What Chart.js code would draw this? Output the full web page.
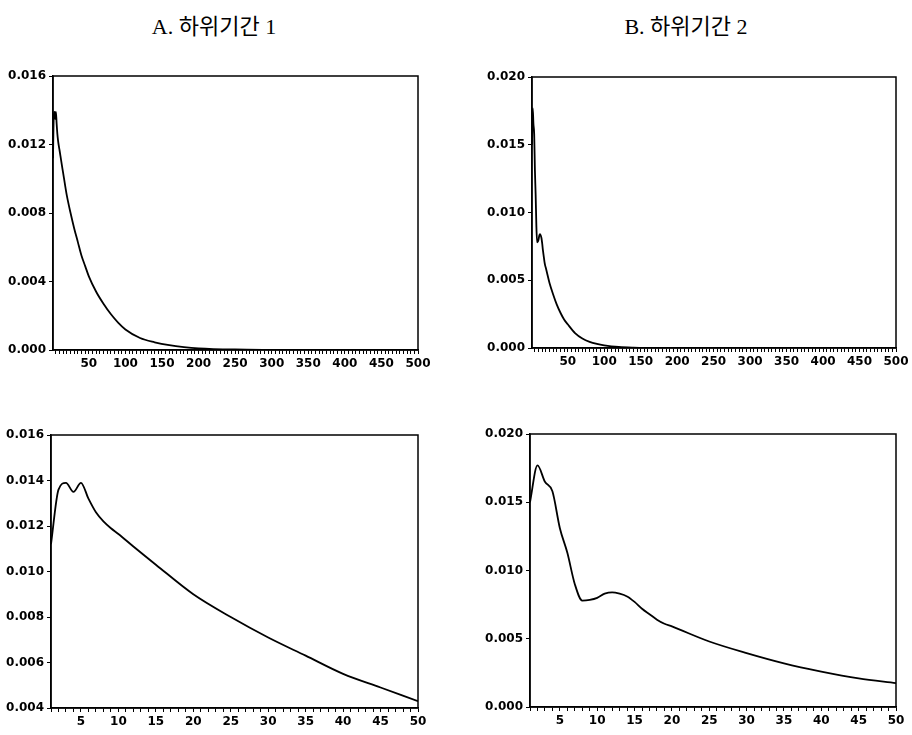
<!DOCTYPE html>
<html><head><meta charset="utf-8">
<script src="https://cdn.jsdelivr.net/npm/chart.js@4"></script>
<style>
html,body{margin:0;padding:0;background:#fff}
body{width:912px;height:735px;position:relative;overflow:hidden}
.box{position:absolute}
.title{position:absolute;font-family:"Liberation Serif","Noto Sans CJK KR",serif;font-size:22px;color:#000;white-space:nowrap;transform:translateX(-50%)}
</style></head><body>
<div class="title" style="left:214px;top:8px">A. 하위기간 1</div>
<div class="title" style="left:686px;top:8px">B. 하위기간 2</div>
<div class="box" style="left:0;top:60px"><canvas id="tl" width="440" height="320"></canvas></div>
<div class="box" style="left:460px;top:60px"><canvas id="tr" width="452" height="320"></canvas></div>
<div class="box" style="left:0;top:420px"><canvas id="bl" width="440" height="315"></canvas></div>
<div class="box" style="left:460px;top:420px"><canvas id="br" width="452" height="315"></canvas></div>
<script>
// Sub-period 1, horizons 1..500
const p1LongX = [1,2,3,4,5,6,7,8,9,10,12,15,18,20,25,30,35,40,45,50,60,70,80,90,100,120,140,160,180,200,250,300,350,400,450,500];
const p1LongY = [0.0112,0.0136,0.0139,0.0135,0.0139,0.0132,0.0126,0.0122,0.0119,0.01165,0.0111,0.0103,0.0095,0.0090,0.0080,0.0071,0.0063,0.0055,0.0049,0.0043,0.0034,0.0027,0.0021,0.0016,0.0012,0.0007,0.00045,0.00028,0.00017,0.0001,0.00003,0.00001,0,0,0,0];
// Sub-period 2, horizons 1..500
const p2LongX = [1,2,3,4,5,6,7,8,9,10,11,12,13,14,15,16,17,18,19,20,25,30,35,40,45,50,60,70,80,90,100,120,140,160,200,300,400,500];
const p2LongY = [0.0150,0.0177,0.0165,0.0158,0.0131,0.0113,0.0090,0.0078,0.00785,0.0080,0.0083,0.0084,0.0083,0.0081,0.0077,0.0072,0.0068,0.0064,0.0061,0.0059,0.0048,0.00395,0.0032,0.0026,0.0021,0.00175,0.0011,0.0007,0.00045,0.0003,0.0002,0.00008,0.00003,0.00001,0,0,0,0];
// Sub-period 1, horizons 1..50
const p1ShortX = [1,2,3,4,5,6,7,8,9,10,12,15,20,25,30,35,40,45,50];
const p1ShortY = [0.0112,0.0136,0.0139,0.0135,0.0139,0.0132,0.0126,0.0122,0.0119,0.01165,0.0111,0.0103,0.0090,0.0080,0.0071,0.0063,0.0055,0.0049,0.0043];
// Sub-period 2, horizons 1..50
const p2ShortX = [1,2,3,4,5,6,7,8,9,10,11,12,13,14,15,16,17,18,19,20,25,30,35,40,45,50];
const p2ShortY = [0.0150,0.0177,0.0165,0.0158,0.0131,0.0113,0.0090,0.0078,0.00785,0.0080,0.0083,0.0084,0.0083,0.0081,0.0077,0.0072,0.0068,0.0064,0.0061,0.0059,0.0048,0.00395,0.0032,0.0026,0.0021,0.00175];

// tick labels
const longXLabels = [50,100,150,200,250,300,350,400,450,500];
const shortXLabels = [5,10,15,20,25,30,35,40,45,50];
const yTicksTL = [0.000,0.004,0.008,0.012,0.016];
const yTicksBL = [0.004,0.006,0.008,0.010,0.012,0.014,0.016];
const yTicksR = [0.000,0.005,0.010,0.015,0.020];

Chart.defaults.font = {family:'"DejaVu Sans", sans-serif', size:12, weight:'bold'};
Chart.defaults.color = '#000';

const boxPlugin = {
  id:'box',
  afterDraw(c){
    const a=c.chartArea, ctx=c.ctx;
    ctx.save(); ctx.strokeStyle='#000'; ctx.lineWidth=1.5;
    ctx.strokeRect(a.left,a.top,a.right-a.left,a.bottom-a.top);
    ctx.restore();
  }
};

function make(id, xs, ys, o){
  const minor=[];
  for(let v=o.minorStep; v<=o.xMax; v+=o.minorStep) minor.push(v);
  const data = xs.map((x,i)=>({x:x,y:ys[i]}));
  new Chart(document.getElementById(id),{
    type:'line',
    data:{datasets:[{data:data,borderColor:'#000',borderWidth:1.8,pointRadius:0,cubicInterpolationMode:'monotone',fill:false}]},
    options:{
      responsive:false, animation:false,
      layout:{padding:{top:o.padTop,right:o.padRight,left:0,bottom:0}},
      plugins:{legend:{display:false},tooltip:{enabled:false}},
      scales:{
        x:{type:'linear',min:o.xMin,max:o.xMax,
          afterBuildTicks:s=>{s.ticks=minor.map(v=>({value:v}));},
          afterFit:s=>{s.height=o.xH;},
          ticks:{autoSkip:false,maxRotation:0,padding:3,callback:v=>o.labels.includes(v)?String(v):''},
          grid:{drawOnChartArea:false,tickLength:4,color:'#000',lineWidth:1},
          border:{color:'#000',width:1.5}},
        y:{min:o.yMin,max:o.yMax,
          afterBuildTicks:s=>{s.ticks=o.yTicks.map(v=>({value:v}));},
          afterFit:s=>{s.width=o.yW;},
          ticks:{padding:3,callback:v=>Number(v).toFixed(3)},
          grid:{drawOnChartArea:false,tickLength:4,color:'#000',lineWidth:1},
          border:{color:'#000',width:1.5}}
      }
    },
    plugins:[boxPlugin]
  });
}

make('tl', p1LongX, p1LongY, {xMin:1,xMax:500,minorStep:5,labels:longXLabels,yMin:0,yMax:0.016,yTicks:yTicksTL,yW:53,xH:30,padTop:16,padRight:22});
make('tr', p2LongX, p2LongY, {xMin:1,xMax:500,minorStep:5,labels:longXLabels,yMin:0,yMax:0.020,yTicks:yTicksR,yW:72,xH:32,padTop:17,padRight:16});
make('bl', p1ShortX, p1ShortY, {xMin:1,xMax:50,minorStep:1,labels:shortXLabels,yMin:0.004,yMax:0.016,yTicks:yTicksBL,yW:51,xH:27,padTop:15,padRight:22});
make('br', p2ShortX, p2ShortY, {xMin:1,xMax:50,minorStep:1,labels:shortXLabels,yMin:0,yMax:0.020,yTicks:yTicksR,yW:70,xH:28,padTop:14,padRight:16});
</script>
</body></html>
